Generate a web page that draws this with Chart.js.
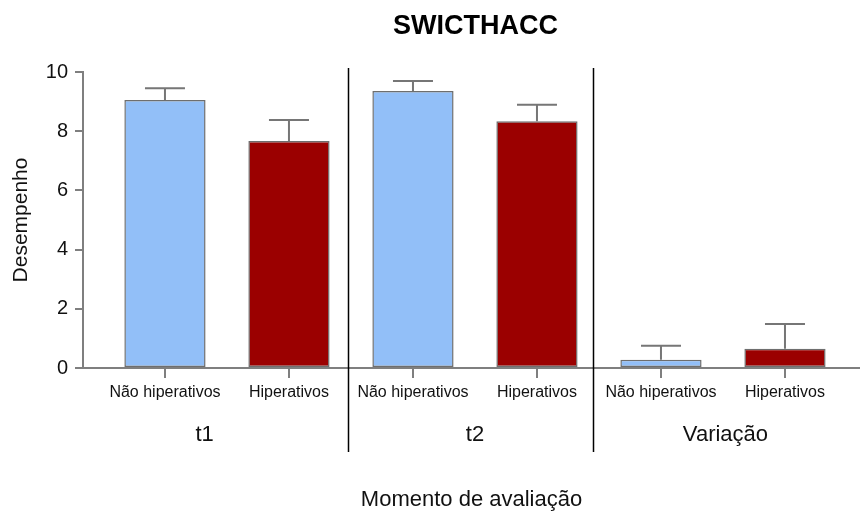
<!DOCTYPE html>
<html>
<head>
<meta charset="utf-8">
<title>SWICTHACC</title>
<script src="https://cdn.jsdelivr.net/npm/chart.js@4.4.1/dist/chart.umd.min.js"></script>
<style>
  html, body { margin: 0; padding: 0; background: #ffffff; }
  #wrap { width: 860px; height: 514px; position: relative; }
</style>
</head>
<body>
<div id="wrap"><canvas id="chart"></canvas></div>
<script>
// Assessment moments and the two groups compared in each
const groups = ['t1', 't2', 'Variação'];
const subgroups = ['Não hiperativos', 'Hiperativos'];

// Mean performance per moment
const naoHiperativos = [9.05, 9.36, 0.28];
const hiperativos = [7.67, 8.34, 0.65];

// Upper error (SD) per moment
const naoHiperativosErro = [0.40, 0.34, 0.47];
const hiperativosErro = [0.71, 0.55, 0.84];

// Y axis ticks
const yTicks = [0, 2, 4, 6, 8, 10];

// Boundaries between moments, and where each moment name sits, in x-scale units
const separadores = [1.475, 3.45];
const posicaoRotulos = [0.32, 2.5, 4.52];

const TITLE = 'SWICTHACC';
const FONT = "'Liberation Sans', Arial, sans-serif";
const AXIS_GREY = '#7f7f7f';
const colours = ['#92bff8', '#9b0000'];

// One bar per (moment, group) pair, laid out on a numeric x scale
const bars = [];
const barColours = [];
groups.forEach((g, i) => {
  bars.push({ x: 2 * i, y: naoHiperativos[i], err: naoHiperativosErro[i] });
  barColours.push(colours[0]);
  bars.push({ x: 2 * i + 1, y: hiperativos[i], err: hiperativosErro[i] });
  barColours.push(colours[1]);
});

// Upward-only error bars with a flat cap
const errorBars = {
  id: 'errorBars',
  afterDatasetsDraw(chart) {
    const { ctx, scales: { y } } = chart;
    const meta = chart.getDatasetMeta(0);
    ctx.save();
    ctx.strokeStyle = '#767676';
    ctx.lineWidth = 2;
    meta.data.forEach((el, i) => {
      const d = chart.data.datasets[0].data[i];
      const top = y.getPixelForValue(d.y + d.err);
      ctx.beginPath();
      ctx.moveTo(el.x, el.y);
      ctx.lineTo(el.x, top);
      ctx.moveTo(el.x - 20, top);
      ctx.lineTo(el.x + 20, top);
      ctx.stroke();
    });
    ctx.restore();
  }
};

// Title over the plot, dividers between moments and the moment names
const decorations = {
  id: 'decorations',
  afterDraw(chart) {
    const { ctx, chartArea, scales: { x } } = chart;
    ctx.save();
    ctx.fillStyle = '#000000';
    ctx.font = 'bold 27px ' + FONT;
    ctx.textAlign = 'center';
    ctx.textBaseline = 'alphabetic';
    ctx.fillText(TITLE, (chartArea.left + chartArea.right) / 2 + 4, 34);

    ctx.strokeStyle = '#000000';
    ctx.lineWidth = 1.5;
    separadores.forEach(v => {
      const px = Math.round(x.getPixelForValue(v)) + 0.5;
      ctx.beginPath();
      ctx.moveTo(px, chartArea.top - 4);
      ctx.lineTo(px, chartArea.bottom + 84);
      ctx.stroke();
    });

    ctx.fillStyle = '#111111';
    ctx.font = '22px ' + FONT;
    groups.forEach((g, i) => {
      ctx.fillText(g, x.getPixelForValue(posicaoRotulos[i]), chartArea.bottom + 73);
    });
    ctx.restore();
  }
};

new Chart(document.getElementById('chart'), {
  type: 'bar',
  data: {
    datasets: [{
      data: bars,
      backgroundColor: barColours,
      borderColor: '#6e6e6e',
      borderWidth: 1.5,
      borderSkipped: false,
      categoryPercentage: 1,
      barPercentage: 0.655
    }]
  },
  options: {
    responsive: true,
    maintainAspectRatio: false,
    devicePixelRatio: 1,
    animation: false,
    layout: { padding: { top: 72, left: 0, right: 0, bottom: 0 } },
    plugins: {
      legend: { display: false },
      tooltip: { enabled: false },
      title: { display: false }
    },
    scales: {
      x: {
        type: 'linear',
        offset: false,
        min: -0.661,
        max: 5.605,
        afterFit(scale) { scale.height = 146; },
        border: { color: AXIS_GREY, width: 2 },
        grid: { offset: false, drawOnChartArea: false, drawTicks: true, tickLength: 10, color: AXIS_GREY, lineWidth: 2 },
        ticks: {
          stepSize: 1,
          includeBounds: false,
          autoSkip: false,
          maxRotation: 0,
          padding: 5,
          color: '#111111',
          font: { family: FONT, size: 16 },
          callback: v => (Number.isInteger(v) && v >= 0 ? subgroups[v % 2] : '')
        },
        title: {
          display: true,
          text: 'Momento de avaliação',
          color: '#111111',
          font: { family: FONT, size: 22 },
          padding: { top: 0, bottom: 1 }
        }
      },
      y: {
        min: 0,
        max: 10,
        afterFit(scale) { scale.width = 83; },
        afterBuildTicks(scale) { scale.ticks = yTicks.map(v => ({ value: v })); },
        border: { color: AXIS_GREY, width: 2 },
        grid: { drawOnChartArea: false, drawTicks: true, tickLength: 8, color: AXIS_GREY, lineWidth: 2 },
        ticks: {
          padding: 7,
          color: '#111111',
          font: { family: FONT, size: 20 }
        },
        title: {
          display: true,
          text: 'Desempenho',
          color: '#111111',
          font: { family: FONT, size: 21 },
          padding: { top: 9, bottom: 0 }
        }
      }
    }
  },
  plugins: [errorBars, decorations]
});
</script>
</body>
</html>
